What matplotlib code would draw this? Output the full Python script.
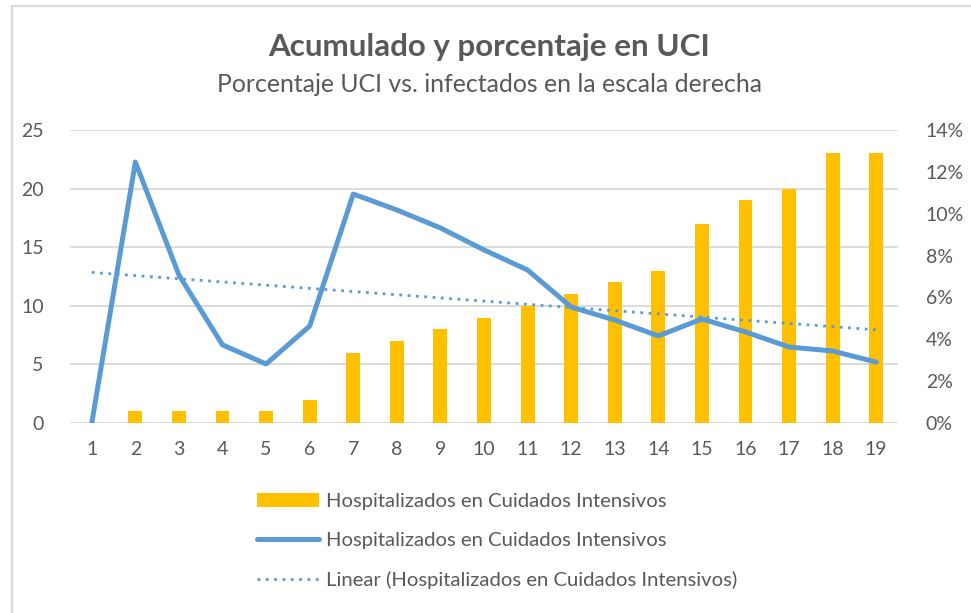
import matplotlib.pyplot as plt
import numpy as np
from matplotlib.lines import Line2D
from matplotlib.ticker import PercentFormatter

plt.rcParams["font.family"] = ["Lato", "DejaVu Sans"]

days = list(range(1, 20))
uci_total = [0, 1, 1, 1, 1, 2, 6, 7, 8, 9, 10, 11, 12, 13, 17, 19, 20, 23, 23]
uci_pct = [0.0, 12.47, 7.07, 3.73, 2.82, 4.63, 10.94, 10.18, 9.32, 8.27,
           7.31, 5.54, 4.92, 4.16, 4.97, 4.35, 3.63, 3.44, 2.91]
label = "Hospitalizados en Cuidados Intensivos"

GREY = "#595959"
BAR = "#FFC000"
LINE = "#5B9BD5"

W, H = 971, 613
fig = plt.figure(figsize=(W / 100, H / 100), dpi=100, facecolor="white")

# chart-area border, only top and left edges fall inside the screenshot
fig.add_artist(Line2D([11.5 / W, 11.5 / W], [0, 1 - 6 / H], color="#D9D9D9", linewidth=1.6))
fig.add_artist(Line2D([11.5 / W, 1], [1 - 6 / H, 1 - 6 / H], color="#D9D9D9", linewidth=1.6))

ax = fig.add_axes([70 / W, 1 - 423 / H, 828 / W, 293 / H])
ax2 = ax.twinx()

bars = ax.bar(days, uci_total, width=0.32, color=BAR, label=label, zorder=2)
ax.set_xlim(0.5, 19.5)
ax.set_ylim(0, 25)
ax.set_yticks(range(0, 26, 5))
ax.set_xticks(days)
ax.yaxis.grid(True, color="#D9D9D9", linewidth=1.3)
ax.set_axisbelow(True)

x = np.array(days)
y = np.array(uci_pct)
slope, intercept = np.polyfit(x, y, 1)
line, = ax2.plot(days, uci_pct, color=LINE, linewidth=3.6,
                 solid_joinstyle="round", solid_capstyle="round", label=label, zorder=3)
trend, = ax2.plot(x, slope * x + intercept, color=LINE, linewidth=2,
                  linestyle=(0, (1, 2)), label=f"Linear ({label})", zorder=3)
ax2.set_ylim(0, 14)
ax2.set_yticks(range(0, 15, 2))
ax2.yaxis.set_major_formatter(PercentFormatter(decimals=0))

for a in (ax, ax2):
    for s in a.spines.values():
        s.set_visible(False)
    a.tick_params(length=0, labelsize=14, colors=GREY)
ax.tick_params(axis="x", pad=13)
ax.tick_params(axis="y", pad=19)
ax2.tick_params(axis="y", pad=20)

fig.text(0.504, 1 - 47 / H, "Acumulado y porcentaje en UCI", ha="center", va="center",
         fontsize=22.6, fontweight="bold", color=GREY)
fig.text(0.504, 1 - 85 / H, "Porcentaje UCI vs. infectados en la escala derecha",
         ha="center", va="center", fontsize=17.9, color=GREY)

leg = fig.legend(handles=[bars, line, trend], loc="center", bbox_to_anchor=(0.512, 1 - 541 / H),
                 ncol=1, frameon=False, fontsize=14.6, labelcolor=GREY,
                 handlelength=3.05, handletextpad=0.35, labelspacing=1.07)

fig.savefig("out.png", dpi=100, facecolor="white")
